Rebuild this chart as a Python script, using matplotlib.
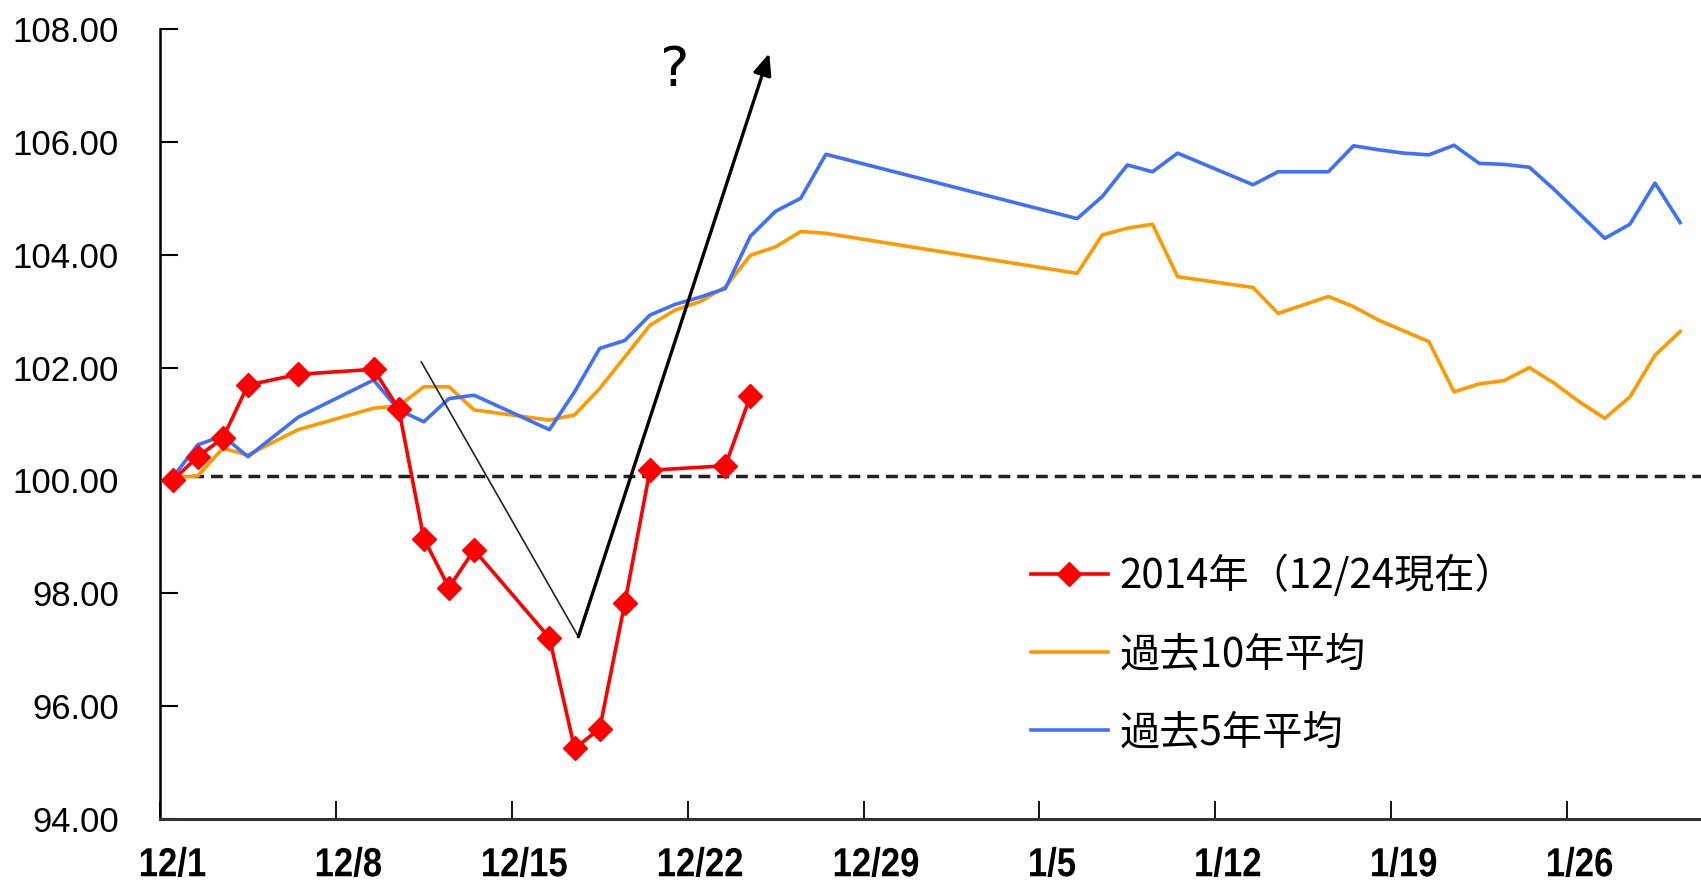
import numpy as np
import matplotlib
matplotlib.use('Agg')
import matplotlib.pyplot as plt
from matplotlib.patheffects import AbstractPathEffect
from matplotlib.transforms import Affine2D

# day index: 0 = 12/1
red_days = [0, 1, 2, 3, 5, 8, 9, 10, 11, 12, 15, 16, 17, 18, 19, 22, 23]
red_vals = [100.00, 100.42, 100.75, 101.69, 101.88, 101.97, 101.27, 98.97, 98.10,
            98.77, 97.21, 95.25, 95.60, 97.83, 100.18, 100.26, 101.50]

avg_days = [0, 1, 2, 3, 5, 8, 9, 10, 11, 12, 15, 16, 17, 18, 19, 20, 21, 22, 23, 24, 25, 26,
            36, 37, 38, 39, 40, 43, 44, 45, 46, 47, 48, 49, 50, 51, 52, 53, 54, 55, 56, 57,
            58, 59, 60]
avg10_vals = [100.05, 100.08, 100.57, 100.45, 100.90, 101.28, 101.32, 101.66, 101.66, 101.25,
              101.07, 101.16, 101.63, 102.19, 102.75, 103.02, 103.17, 103.43, 103.99, 104.14,
              104.41, 104.38, 103.67, 104.35, 104.47, 104.54, 103.61, 103.42, 102.96, 103.11,
              103.26, 103.08, 102.84, 102.65, 102.46, 101.57, 101.71, 101.77, 102.00, 101.72,
              101.39, 101.10, 101.48, 102.22, 102.64]
avg5_vals = [100.05, 100.63, 100.79, 100.42, 101.12, 101.78, 101.25, 101.04, 101.45, 101.51,
             100.90, 101.57, 102.34, 102.48, 102.93, 103.12, 103.25, 103.40, 104.33, 104.77,
             105.00, 105.78, 104.64, 105.03, 105.59, 105.47, 105.80, 105.24, 105.47, 105.47,
             105.47, 105.93, 105.86, 105.80, 105.77, 105.94, 105.62, 105.60, 105.55, 105.15,
             104.72, 104.29, 104.54, 105.27, 104.57]

base_level = 100.08
tick_days = [0, 7, 14, 21, 28, 35, 42, 49, 56]
tick_labels = ['12/1', '12/8', '12/15', '12/22', '12/29', '1/5', '1/12', '1/19', '1/26']

labels = ['2014年（12/24現在）', '過去10年平均', '過去5年平均']

# annotation: thin drop line, then arrow up, with question mark
drop_line = [(9.9, 102.1), (16.15, 97.23)]
arrow_tip = (23.75, 107.57)
question_pos = (20.0, 107.25)


class StretchY(AbstractPathEffect):
    # slightly tall look of the date labels
    def __init__(self, sy):
        super().__init__()
        self.sy = sy

    def draw_path(self, renderer, gc, tpath, affine, rgbFace=None):
        renderer.draw_path(gc, tpath, Affine2D().scale(1, self.sy) + affine, rgbFace)


fig = plt.figure(figsize=(17.01, 8.85), dpi=100)
ax = fig.add_axes([160/1701, 1-819/885, 1-160/1701, (819-29)/885])

ax.hlines(base_level, red_days[0], 60.83, colors='#222222', linestyles=(0, (3.4, 2.0)),
          linewidth=2.5, zorder=1)
ax.plot(avg_days, avg10_vals, color='#FF9900', lw=2.6, label=labels[1], zorder=2)
ax.plot(avg_days, avg5_vals, color='#3F6FFF', lw=2.6, label=labels[2], zorder=3)
ax.plot(red_days, red_vals, color='#FF0000', lw=2.6, marker='D', ms=12.5, mec='#FF0000',
        label=labels[0], zorder=4)

# annotation lines
ax.plot([p[0] for p in drop_line], [p[1] for p in drop_line], color='#222222', lw=1.2, zorder=5)
ax.annotate('', xy=arrow_tip, xytext=drop_line[1],
            arrowprops=dict(arrowstyle='-|>,head_length=1.3,head_width=0.55', color='black',
                            lw=2.4, shrinkA=0, shrinkB=0), zorder=6)
ax.text(question_pos[0], question_pos[1], '?', fontsize=40,
        family='DejaVu Sans', ha='center', va='center')

ax.set_xlim(-0.5, 60.83)
ax.set_ylim(94, 108)
ax.set_yticks(np.arange(94, 108.1, 2))
ax.set_yticklabels([f'{v:.2f}' for v in np.arange(94, 108.1, 2)],
                   family='Liberation Sans', fontsize=25)
ax.tick_params(axis='y', direction='in', length=13, width=1.5, pad=29.5)

ax.set_xticks([d - 0.5 for d in tick_days])
ax.set_xticklabels([])
ax.set_xticks(tick_days, minor=True)
ax.set_xticklabels(tick_labels, minor=True, family='Liberation Sans', fontweight='bold',
                   fontsize=25)
ax.tick_params(axis='x', which='major', direction='in', length=13, width=1.3)
ax.tick_params(axis='x', which='minor', length=0, pad=22.5)
for t in ax.get_xticklabels(minor=True):
    t.set_path_effects([StretchY(1.17)])

for s in ['top', 'right']:
    ax.spines[s].set_visible(False)
ax.spines['left'].set_linewidth(1.8)
ax.spines['bottom'].set_linewidth(2.2)
ax.spines['bottom'].set_color('#333333')

h, l = ax.get_legend_handles_labels()
order = [2, 0, 1]
leg = ax.legend([h[i] for i in order], [l[i] for i in order], loc='upper left',
                bbox_to_anchor=(1031/1701, 1-555/885), bbox_transform=fig.transFigure,
                frameon=False, prop={'family': ['Noto Sans CJK JP', 'DejaVu Sans'], 'size': 29},
                handlelength=1.9, handletextpad=0.3, labelspacing=0.92, borderpad=0,
                borderaxespad=0, numpoints=1)

fig.savefig('out.png', dpi=100)
